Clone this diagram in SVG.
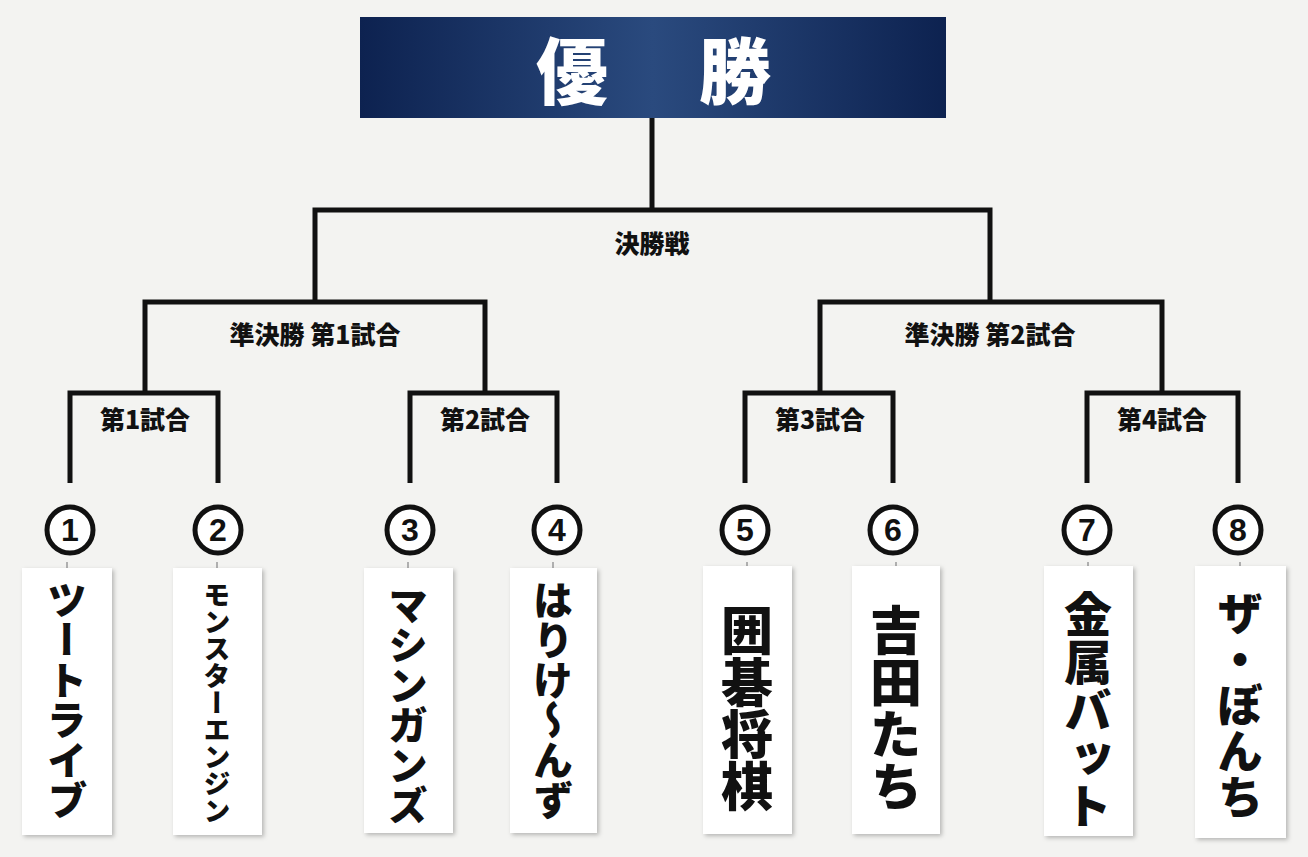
<svg xmlns="http://www.w3.org/2000/svg" width="1308" height="857" viewBox="0 0 1308 857">
<defs>
<linearGradient id="g" x1="0" y1="0" x2="1" y2="0">
<stop offset="0" stop-color="#0d2250"/><stop offset="0.5" stop-color="#2a4a7e"/><stop offset="1" stop-color="#0d2250"/>
</linearGradient>
<filter id="sh" x="-10%" y="-10%" width="120%" height="120%"><feDropShadow dx="2" dy="2" stdDeviation="2" flood-opacity="0.25"/></filter>
</defs>
<style>
.l{fill:none;stroke:#111;stroke-width:5;stroke-linejoin:miter}
.lb{font-family:"Noto Sans CJK JP",sans-serif;font-weight:900;font-size:25px;fill:#111;text-anchor:middle}
.c{fill:#fff;stroke:#111;stroke-width:5}
.n{font-family:"Liberation Sans",sans-serif;font-weight:bold;font-size:32px;fill:#111;text-anchor:middle}
.card{fill:#fff;filter:url(#sh)}
.v{font-family:"Noto Sans CJK JP",sans-serif;font-weight:900;fill:#111;writing-mode:vertical-rl;text-anchor:middle}
.h{stroke:#999;stroke-width:1.5}
</style>
<rect width="1308" height="857" fill="#f3f3f1"/>
<g id="title">
<rect x="360" y="17" width="586" height="101" fill="url(#g)"/>
<text x="572" y="98" font-family="Noto Sans CJK JP,sans-serif" font-weight="900" font-size="72" fill="#fff" text-anchor="middle">優</text>
<text x="735" y="98" font-family="Noto Sans CJK JP,sans-serif" font-weight="900" font-size="72" fill="#fff" text-anchor="middle">勝</text>
</g>
<g id="connectors">
<path class="l" d="M652 118V210M315 302V210H990V302"/>
<path class="l" d="M145 393V302H485V393M820 393V302H1162V393"/>
<path class="l" d="M70 483V393H218V483M410 483V393H557V483M745 483V393H893V483M1087 483V393H1238V483"/>
</g>
<g id="labels">
<text class="lb" x="652" y="253">決勝戦</text>
<text class="lb" x="315" y="344">準決勝 第1試合</text>
<text class="lb" x="990" y="344">準決勝 第2試合</text>
<text class="lb" x="145" y="429">第1試合</text>
<text class="lb" x="485" y="429">第2試合</text>
<text class="lb" x="820" y="429">第3試合</text>
<text class="lb" x="1162" y="429">第4試合</text>
</g>
<g id="e1"><circle class="c" cx="70" cy="530" r="23"/><text class="n" x="70" y="541">1</text><line class="h" x1="67" y1="562" x2="67" y2="572"/><rect class="card" x="22" y="568" width="90" height="267"/><text class="v" x="67" y="700" font-size="40">ツートライブ</text></g>
<g id="e2"><circle class="c" cx="218" cy="530" r="23"/><text class="n" x="218" y="541">2</text><line class="h" x1="217" y1="562" x2="217" y2="572"/><rect class="card" x="173" y="568" width="89" height="267"/><text class="v" x="217" y="703" font-size="27">モンスターエンジン</text></g>
<g id="e3"><circle class="c" cx="410" cy="530" r="23"/><text class="n" x="410" y="541">3</text><line class="h" x1="408" y1="562" x2="408" y2="572"/><rect class="card" x="364" y="568" width="89" height="265"/><text class="v" x="408" y="705" font-size="40">マシンガンズ</text></g>
<g id="e4"><circle class="c" cx="557" cy="530" r="23"/><text class="n" x="557" y="541">4</text><line class="h" x1="553" y1="562" x2="553" y2="572"/><rect class="card" x="510" y="568" width="87" height="265"/><text class="v" x="553" y="700" font-size="40">はりけ〜んず</text></g>
<g id="e5"><circle class="c" cx="745" cy="530" r="23"/><text class="n" x="745" y="541">5</text><line class="h" x1="747" y1="562" x2="747" y2="572"/><rect class="card" x="703" y="566" width="89" height="268"/><text class="v" x="747" y="708" font-size="52">囲碁将棋</text></g>
<g id="e6"><circle class="c" cx="893" cy="530" r="23"/><text class="n" x="893" y="541">6</text><line class="h" x1="896" y1="562" x2="896" y2="572"/><rect class="card" x="852" y="566" width="88" height="268"/><text class="v" x="896" y="708" font-size="52">吉田たち</text></g>
<g id="e7"><circle class="c" cx="1087" cy="530" r="23"/><text class="n" x="1087" y="541">7</text><line class="h" x1="1088" y1="562" x2="1088" y2="572"/><rect class="card" x="1044" y="566" width="89" height="270"/><text class="v" x="1088" y="710" font-size="48">金属バット</text></g>
<g id="e8"><circle class="c" cx="1238" cy="530" r="23"/><text class="n" x="1238" y="541">8</text><line class="h" x1="1240" y1="562" x2="1240" y2="572"/><rect class="card" x="1195" y="566" width="91" height="272"/><text class="v" x="1240" y="705" font-size="46">ザ・ぼんち</text></g>
</svg>
